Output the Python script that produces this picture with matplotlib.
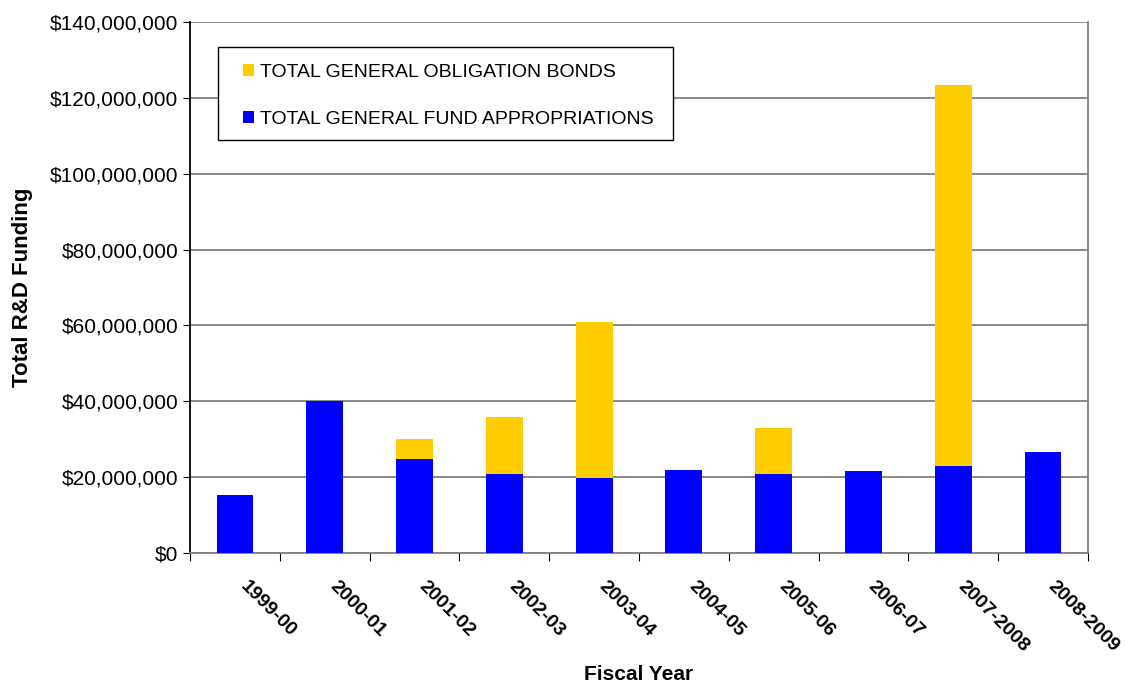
import numpy as np
import matplotlib.pyplot as plt
from matplotlib.patches import Rectangle
from matplotlib.ticker import FuncFormatter, MultipleLocator

plt.rcParams['font.family'] = ['Liberation Sans', 'DejaVu Sans']

# DATA (millions of dollars)
years = ['1999-00', '2000-01', '2001-02', '2002-03', '2003-04',
         '2004-05', '2005-06', '2006-07', '2007-2008', '2008-2009']
general_fund = [15.3, 40.0, 24.8, 20.8, 19.8, 21.9, 20.8, 21.6, 22.9, 26.6]
bonds = [0, 0, 5.3, 15.1, 41.1, 0, 12.2, 0, 100.5, 0]

BLUE = '#0000ff'
GOLD = '#ffcc00'

fig = plt.figure(figsize=(11.25, 6.86), dpi=100)
ax = fig.add_axes([0.169, 0.194, 0.798, 0.774])

x = np.arange(len(years))
gf = np.array(general_fund) * 1e6
gob = np.array(bonds) * 1e6

b_gf = ax.bar(x, gf, width=0.41, color=BLUE, zorder=3)
b_gob = ax.bar(x, gob, width=0.41, bottom=gf, color=GOLD, zorder=3)

ax.set_xlim(-0.5, len(years) - 0.5)
ax.set_ylim(0, 140e6)
ax.yaxis.set_major_locator(MultipleLocator(20e6))
ax.yaxis.set_major_formatter(FuncFormatter(lambda v, p: '${:,.0f}'.format(v)))
ax.grid(axis='y', color='#808080', linewidth=1.3, zorder=0)

# ticks between categories, labels just right of centers
ax.set_xticks(np.arange(len(years) + 1) - 0.5)
ax.set_xticklabels([])
ax.set_xticks(x + 0.15, minor=True)
ax.set_xticklabels(years, minor=True, rotation=-45, ha='left', va='top',
                   rotation_mode='anchor', fontsize=14, fontweight='bold')
ax.tick_params(axis='x', which='minor', length=0, pad=18)
ax.tick_params(axis='x', which='major', length=6, direction='out')
ax.tick_params(axis='y', length=5, labelsize=15)

ax.spines['top'].set_visible(False)
ax.spines['right'].set_color('#808080')
ax.spines['right'].set_linewidth(1.3)
ax.spines['left'].set_linewidth(1.3)
ax.spines['bottom'].set_color('#808080')
ax.spines['bottom'].set_linewidth(1.3)

ax.set_ylabel('Total R&D Funding', fontsize=16, fontweight='bold', labelpad=12)
ax.set_xlabel('Fiscal Year', fontsize=15, fontweight='bold', labelpad=7)

# legend box drawn separately so padding can differ per side
ax.add_patch(Rectangle((0.031, 0.778), 0.507, 0.175, transform=ax.transAxes,
                       facecolor='white', edgecolor='black', linewidth=1.0,
                       zorder=4))
leg = ax.legend([b_gob, b_gf],
                ['TOTAL GENERAL OBLIGATION BONDS', 'TOTAL GENERAL FUND APPROPRIATIONS'],
                loc='upper left', bbox_to_anchor=(0.059, 0.921), fontsize=14,
                frameon=False, handlelength=0.57, handleheight=0.57,
                handletextpad=0.3, labelspacing=1.55, borderpad=0,
                borderaxespad=0)
leg.set_zorder(5)

fig.savefig('out.png', dpi=100, facecolor='white')
